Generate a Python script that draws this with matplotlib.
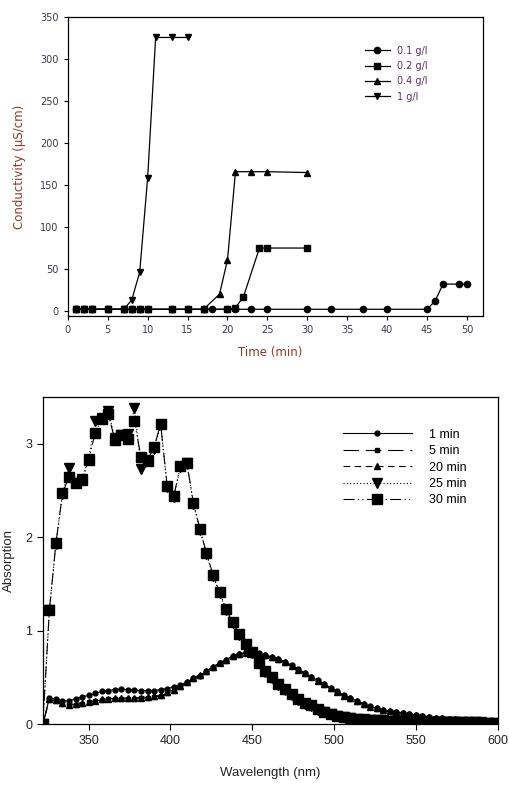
"""Conductivity vs time and absorption spectra, two stacked panels"""
import matplotlib
matplotlib.use("Agg")
import matplotlib.pyplot as plt

# ---- top panel: conductivity (uS/cm) vs time (min)
t_01 = [1, 2, 3, 5, 7, 8, 9, 10, 13, 15, 17, 18, 20, 21, 23, 25, 30, 33, 37, 40, 45, 46, 47, 49, 50]
c_01 = [2, 2, 2, 2, 2, 2, 2, 2, 2, 2, 2, 2, 2, 2, 2, 2, 2, 2, 2, 2, 2, 12, 32, 32, 32]
t_02 = [1, 2, 3, 5, 7, 8, 9, 10, 13, 15, 17, 20, 21, 22, 24, 25, 30]
c_02 = [2, 2, 2, 2, 2, 2, 2, 2, 2, 2, 2, 2, 4, 17, 75, 75, 75]
t_04 = [1, 2, 3, 5, 7, 8, 9, 10, 13, 15, 17, 19, 20, 21, 23, 25, 30]
c_04 = [2, 2, 2, 2, 2, 2, 2, 2, 2, 2, 2, 20, 61, 166, 166, 166, 165]
t_1 = [1, 2, 3, 5, 7, 8, 9, 10, 11, 13, 15]
c_1 = [2, 2, 2, 2, 2, 13, 46, 159, 326, 326, 326]
conc_labels = ["0.1 g/l", "0.2 g/l", "0.4 g/l", "1 g/l"]

# ---- bottom panel: absorption spectra
wl = list(range(322, 599, 4))
abs_1 = [0.0, 0.28, 0.27, 0.25, 0.25, 0.27, 0.29, 0.31, 0.33, 0.35,
         0.36, 0.37, 0.375, 0.37, 0.365, 0.36, 0.36, 0.36, 0.37, 0.38,
         0.40, 0.42, 0.45, 0.49, 0.52, 0.57, 0.61, 0.66, 0.69, 0.73,
         0.75, 0.77, 0.77, 0.76, 0.74, 0.72, 0.70, 0.67, 0.63, 0.59,
         0.55, 0.51, 0.47, 0.43, 0.39, 0.35, 0.31, 0.28, 0.25, 0.22,
         0.19, 0.17, 0.15, 0.14, 0.13, 0.12, 0.11, 0.10, 0.09, 0.08,
         0.07, 0.065, 0.06, 0.055, 0.05, 0.045, 0.04, 0.037, 0.034, 0.03]
abs_5 = [0.0, 0.26, 0.25, 0.22, 0.20, 0.21, 0.22, 0.235, 0.245, 0.26,
         0.265, 0.27, 0.27, 0.27, 0.27, 0.275, 0.28, 0.29, 0.30, 0.33,
         0.36, 0.40, 0.44, 0.48, 0.52, 0.56, 0.60, 0.65, 0.68, 0.72,
         0.74, 0.76, 0.76, 0.75, 0.73, 0.71, 0.69, 0.66, 0.62, 0.58,
         0.54, 0.50, 0.46, 0.42, 0.38, 0.34, 0.30, 0.27, 0.24, 0.21,
         0.185, 0.165, 0.145, 0.135, 0.125, 0.115, 0.105, 0.095, 0.085, 0.075,
         0.068, 0.062, 0.057, 0.052, 0.048, 0.043, 0.039, 0.035, 0.032, 0.029]
abs_20 = [0.0, 0.27, 0.26, 0.23, 0.21, 0.22, 0.23, 0.24, 0.25, 0.265,
          0.27, 0.28, 0.28, 0.28, 0.28, 0.285, 0.29, 0.30, 0.31, 0.34,
          0.37, 0.41, 0.45, 0.49, 0.53, 0.57, 0.61, 0.655, 0.69, 0.725,
          0.75, 0.765, 0.77, 0.755, 0.735, 0.715, 0.695, 0.665, 0.625, 0.585,
          0.545, 0.505, 0.465, 0.425, 0.385, 0.345, 0.305, 0.275, 0.245, 0.215,
          0.188, 0.168, 0.148, 0.138, 0.128, 0.118, 0.108, 0.098, 0.088, 0.078,
          0.069, 0.064, 0.058, 0.053, 0.049, 0.044, 0.04, 0.036, 0.033, 0.03]
abs_25 = [0.0, 1.22, 1.93, 2.46, 2.74, 2.58, 2.62, 2.84, 3.24, 3.28,
          3.35, 3.06, 3.10, 3.11, 3.38, 2.73, 2.83, 2.94, 3.20, 2.54,
          2.43, 2.75, 2.79, 2.36, 2.08, 1.82, 1.59, 1.40, 1.22, 1.08,
          0.95, 0.85, 0.76, 0.65, 0.56, 0.49, 0.42, 0.37, 0.31, 0.26,
          0.22, 0.19, 0.155, 0.125, 0.105, 0.085, 0.072, 0.062, 0.055, 0.05,
          0.045, 0.041, 0.038, 0.035, 0.033, 0.031, 0.029, 0.027, 0.026, 0.025,
          0.024, 0.023, 0.022, 0.021, 0.020, 0.019, 0.018, 0.017, 0.016, 0.015]
abs_30 = [0.0, 1.22, 1.94, 2.47, 2.65, 2.58, 2.61, 2.83, 3.12, 3.27,
          3.32, 3.04, 3.10, 3.05, 3.24, 2.86, 2.82, 2.97, 3.21, 2.55,
          2.44, 2.76, 2.80, 2.37, 2.09, 1.83, 1.60, 1.41, 1.23, 1.09,
          0.96, 0.86, 0.77, 0.66, 0.57, 0.50, 0.43, 0.38, 0.32, 0.27,
          0.23, 0.20, 0.16, 0.13, 0.11, 0.09, 0.075, 0.065, 0.058, 0.052,
          0.047, 0.043, 0.040, 0.037, 0.035, 0.033, 0.031, 0.029, 0.027, 0.026,
          0.025, 0.024, 0.023, 0.022, 0.021, 0.020, 0.019, 0.018, 0.017, 0.016]
time_labels = ["1 min", "5 min", "20 min", "25 min", "30 min"]

plt.rcParams['font.family'] = ['Liberation Sans', 'DejaVu Sans']

fig = plt.figure(figsize=(5.1, 7.88), dpi=100)

# ---------------- top panel (wide, low-res looking font -> DejaVu)
top_font = ['DejaVu Sans']
ax1 = fig.add_axes([0.133, 0.599, 0.814, 0.379])
top_series = [(t_01, c_01, 'o', 4.5), (t_02, c_02, 's', 5), (t_04, c_04, '^', 5), (t_1, c_1, 'v', 5)]
for (t, c, m, ms), lab in zip(top_series, conc_labels):
	ax1.plot(t, c, color='black', lw=0.9, marker=m, ms=ms, label=lab)
ax1.set_xlim(0, 52)
ax1.set_ylim(-6, 350)
ax1.set_xticks(range(0, 51, 5))
ax1.set_yticks(range(0, 351, 50))
ax1.tick_params(direction='out', length=3, width=0.8, labelsize=7, colors='black', labelcolor='#3a3a4a')
for lbl in ax1.get_xticklabels() + ax1.get_yticklabels():
	lbl.set_family(top_font)
ax1.set_xlabel("Time (min)", fontsize=8.5, color='#8b3a2a', family=top_font)
ax1.set_ylabel("Conductivity (\u00b5S/cm)", fontsize=8.5, color='#8b3a2a', family=top_font)
ax1.xaxis.set_label_coords(0.487, -0.10)
ax1.yaxis.set_label_coords(-0.10, 0.5)
for sp in ax1.spines.values():
	sp.set_linewidth(0.9)
leg1 = ax1.legend(loc='upper left', bbox_to_anchor=(0.715, 0.905), frameon=False,
	prop={'family': top_font, 'size': 7}, handlelength=2.6, handletextpad=0.7, labelspacing=0.55,
	borderpad=0, borderaxespad=0, numpoints=1)
for txt in leg1.get_texts():
	txt.set_color('#5a3060')

# ---------------- bottom panel
ax2 = fig.add_axes([0.084, 0.081, 0.892, 0.415])
styles = [
	(abs_1, '-', 'o', 3.5),
	(abs_5, (0, (14, 6)), 's', 3.5),
	(abs_20, (0, (6, 4)), '^', 3.8),
	(abs_25, (0, (1, 2)), 'v', 7),
	(abs_30, (0, (10, 3, 1, 3, 1, 3)), 's', 6.5),
]
for (vals, ls, m, ms), lab in zip(styles, time_labels):
	ax2.plot(wl, vals, color='black', lw=0.8, ls=ls, marker=m, ms=ms, label=lab)
ax2.set_xlim(322, 600)
ax2.set_ylim(0, 3.5)
ax2.set_xticks(range(350, 601, 50))
ax2.set_yticks([0, 1, 2, 3])
ax2.tick_params(direction='out', length=4, width=0.8, labelsize=9, labelcolor='#222222')
ax2.set_xlabel("Wavelength (nm)", fontsize=9.5, color='#222222')
ax2.set_ylabel("Absorption", fontsize=9.5, color='#222222')
ax2.xaxis.set_label_coords(0.5, -0.13)
ax2.yaxis.set_label_coords(-0.062, 0.5)
for sp in ax2.spines.values():
	sp.set_linewidth(0.9)
ax2.legend(loc='upper left', bbox_to_anchor=(0.66, 0.903), frameon=False,
	fontsize=9, handlelength=5.5, handletextpad=1.4, labelspacing=0.35,
	borderpad=0, borderaxespad=0, numpoints=1)

plt.savefig("out.png", dpi=100)
